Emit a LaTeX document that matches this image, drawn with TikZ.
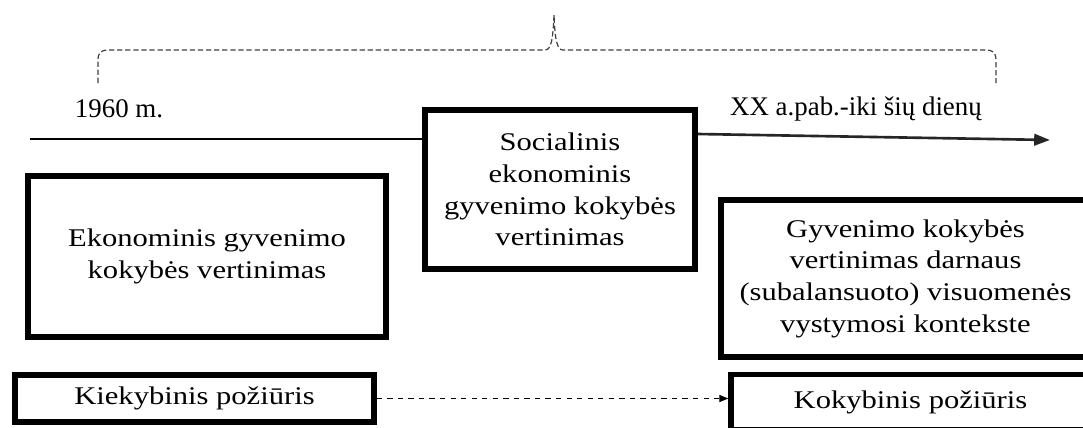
\documentclass[tikz,border=0pt]{standalone}
\usepackage{fontspec}
\setmainfont{Liberation Serif}
\newfontfamily\widefont{Liberation Serif}[FakeStretch=1.2]
\usetikzlibrary{arrows.meta, positioning}

\begin{document}
\begin{tikzpicture}[x=0.02cm, y=-0.02cm, >=Stealth,
  box/.style={draw, line width=3.2pt, align=center, inner sep=0pt,
    font=\widefont\fontsize{14.5}{18}\selectfont},
  yearlabel/.style={font=\fontsize{15.3}{18}\selectfont},
  brace/.style={dash pattern=on 3pt off 1.6pt, black!75, line width=0.7pt}]
  \useasboundingbox (0,0) rectangle (1083,427);
  \clip (0,0) rectangle (1083,427);

  % dashed brace over the whole period
  \draw[brace] (98,83) -- (98,62) .. controls (98,52) and (100,50) .. (110,50)
    -- (545,50) .. controls (551,50) and (553,40) .. (554,15)
    .. controls (555,40) and (557,50) .. (563,50)
    -- (984,50) .. controls (994,50) and (996,52) .. (996,62) -- (996,83);

  % period labels
  \node[yearlabel] (from) at (119,109) {1960 m.};
  \node[yearlabel] (until) at (856,109) {XX a.pab.-iki šių dienų};

  % evaluation stages
  \node[box, minimum width=7.16cm, minimum height=3.22cm] (ekon) at (207,256.5)
    {Ekonominis gyvenimo\\kokybės vertinimas};
  \node[box, minimum width=5.4cm, minimum height=3.18cm] (soc) at (560,189.5)
    {Socialinis\\ekonominis\\gyvenimo kokybės\\vertinimas};
  \node[box, minimum width=7.38cm, minimum height=3.14cm] (darn) at (905.5,278.5)
    {Gyvenimo kokybės\\vertinimas darnaus\\(subalansuoto) visuomenės\\vystymosi kontekste};

  % approaches
  \node[box, minimum width=7.18cm, minimum height=0.94cm] (kiek) at (194.5,398.5)
    {Kiekybinis požiūris};
  \node[box, minimum width=7.18cm, minimum height=1.1cm] (kok) at (910.5,402)
    {Kokybinis požiūris};

  % time axis
  \coordinate (tstart) at (30,139);
  \coordinate (tmid) at (698,134);
  \coordinate (tend) at (1050,140);
  \draw[line width=0.6pt] (tstart) -- (tstart -| soc.west);
  \draw[line width=1.5pt, black!85, -{Triangle[length=9pt, width=6.5pt]}] (tmid) -- (tend);

  \draw[dashed, line width=0.6pt, -{Triangle[length=5pt, width=4pt]}]
    (kiek.east) -- (kiek.east -| kok.west);
\end{tikzpicture}
\end{document}
